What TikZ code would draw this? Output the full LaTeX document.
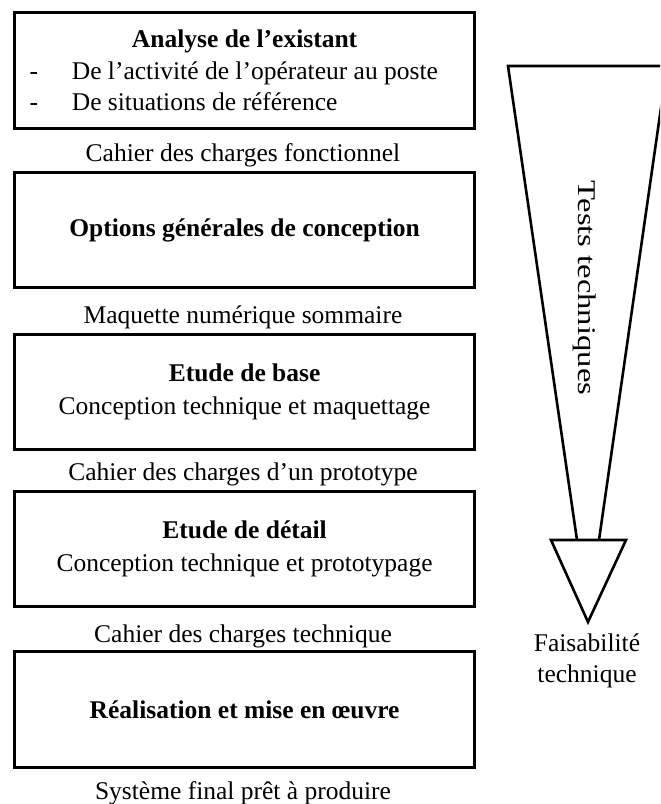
\documentclass[tikz,border=0pt]{standalone}
\usepackage{fontspec}
\setmainfont{Liberation Serif}
\usetikzlibrary{positioning}
\tikzset{
    stage/.style={
        draw,
        line width=1.5pt,
        minimum width=230pt,
        minimum height=57.8pt,
        inner sep=0pt,
        align=center,
        font=\fontsize{12.75}{15.75}\selectfont
    },
    output/.style={
        anchor=base,
        inner sep=0pt,
        font=\fontsize{12.75}{15.75}\selectfont
    },
    funnel/.style={
        line width=1.3pt
    }
}
\newcommand{\bulletline}[1]{\makebox[230pt][l]{\hspace*{7.5pt}-\hspace*{16.9pt}#1}}

\begin{document}
\begin{tikzpicture}[x=0.5pt, y=-0.5pt]
    \useasboundingbox (0,0) rectangle (660,804);
    \clip (0,0) rectangle (660,804);

    % Stages
    \node[stage] (s1) at (244.6,70.5) {\textbf{Analyse de l’existant}\\
        \bulletline{De l’activité de l’opérateur au poste}\\
        \bulletline{De situations de référence}};
    \node[stage] (s2) at (244.6,230) {\textbf{Options générales de conception}};
    \node[stage] (s3) at (244.6,392) {\textbf{Etude de base}\\[1pt]
        Conception technique et maquettage};
    \node[stage] (s4) at (244.6,549) {\textbf{Etude de détail}\\[1pt]
        Conception technique et prototypage};
    \node[stage] (s5) at (244.6,709.6) {\textbf{Réalisation et mise en œuvre}};

    % Outputs
    \node[output] (o1) at (243,161.7) {Cahier des charges fonctionnel};
    \node[output] (o2) at (243,323) {Maquette numérique sommaire};
    \node[output] (o3) at (243,480) {Cahier des charges d’un prototype};
    \node[output] (o4) at (243,642) {Cahier des charges technique};
    \node[output] (o5) at (243,799) {Système final prêt à produire};

    % Funnel
    \coordinate (tl) at (508,66);
    \coordinate (tr) at (667,66);
    \coordinate (bl) at (577,540);
    \coordinate (br) at (599,540);
    \coordinate (hl) at (551,540);
    \coordinate (hr) at (626,540);
    \coordinate (tip) at (588,622);
    \draw[funnel] (bl) -- (tl) -- (tr) -- (br);
    \draw[funnel] (hl) -- (hr) -- (tip) -- cycle;

    \node[rotate=-90, xscale=1.28, inner sep=0pt,
        font=\fontsize{12.75}{15.75}\selectfont] (tests) at (585,288) {Tests techniques};
    \node[align=center, inner sep=0pt,
        font=\fontsize{12.75}{15.75}\selectfont] (feas) at (587,661) {Faisabilité\\technique};
\end{tikzpicture}
\end{document}
